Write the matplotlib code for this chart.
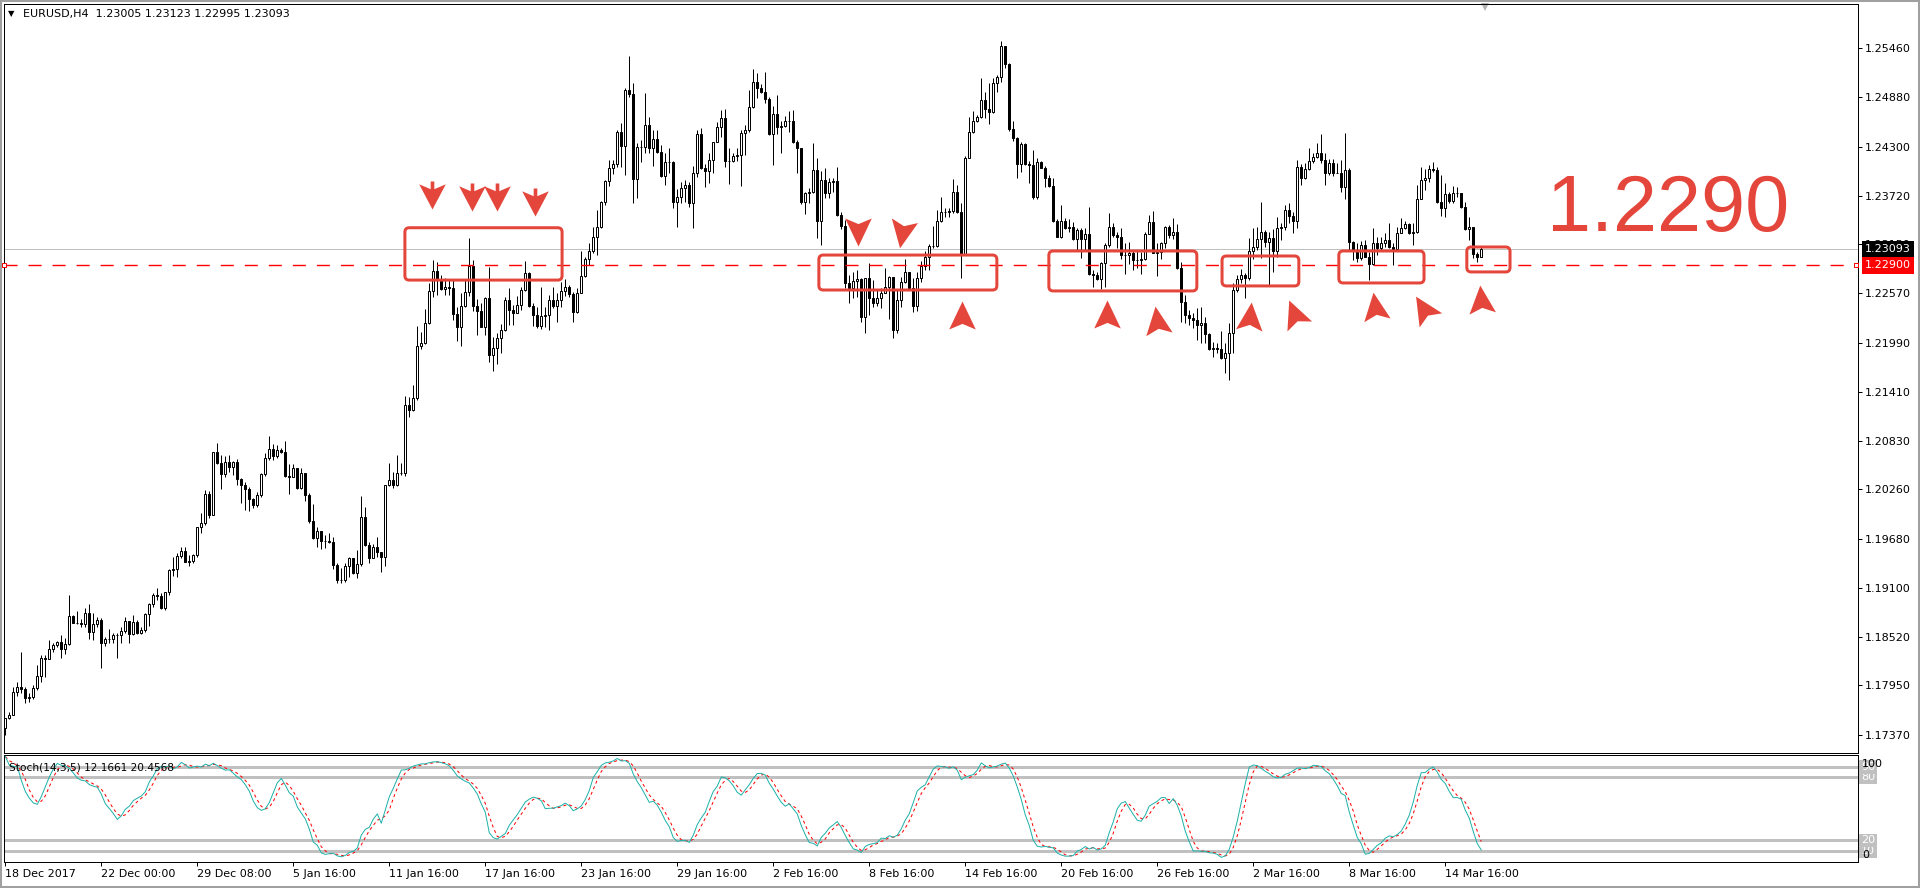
import numpy as np
import pandas as pd
import matplotlib
matplotlib.use("Agg")
import matplotlib.pyplot as plt
from matplotlib.patches import FancyBboxPatch, Rectangle
from matplotlib.path import Path
from matplotlib.markers import MarkerStyle
from matplotlib.transforms import Affine2D, blended_transform_factory

#%% DATA  (EURUSD H4)

symbol_text = "EURUSD,H4  1.23005 1.23123 1.22995 1.23093"
stoch_text = "Stoch(14,3,5) 12.1661 20.4568"

first_open = 1.17444

closes = [
    1.17562, 1.17601, 1.17876, 1.17927, 1.17903, 1.17805, 1.17809, 1.17915, 1.18061, 1.18269,
    1.18265, 1.18375, 1.18426, 1.18458, 1.18375, 1.18434, 1.18768, 1.18689, 1.18689, 1.18670,
    1.18800, 1.18583, 1.18670, 1.18717, 1.18446, 1.18493, 1.18493, 1.18540, 1.18540, 1.18591,
    1.18709, 1.18552, 1.18697, 1.18564, 1.18603, 1.18788, 1.18906, 1.19016, 1.19008, 1.18858,
    1.19055, 1.19310, 1.19318, 1.19475, 1.19534, 1.19409, 1.19417, 1.19487, 1.19813, 1.19861,
    1.20206, 1.19959, 1.20698, 1.20568, 1.20438, 1.20580, 1.20521, 1.20580, 1.20379, 1.20313,
    1.20261, 1.20144, 1.20077, 1.20195, 1.20438, 1.20627, 1.20733, 1.20658, 1.20725, 1.20706,
    1.20419, 1.20411, 1.20517, 1.20273, 1.20450, 1.20195, 1.19892, 1.19684, 1.19770, 1.19652,
    1.19652, 1.19645, 1.19369, 1.19192, 1.19192, 1.19358, 1.19448, 1.19271, 1.19377, 1.19939,
    1.19605, 1.19456, 1.19586, 1.19527, 1.19468, 1.20313, 1.20371, 1.20313, 1.20450, 1.20450,
    1.21256, 1.21197, 1.21334, 1.21950, 1.21982, 1.22218, 1.22603, 1.22835, 1.22728, 1.22618,
    1.22642, 1.22630, 1.22324, 1.22170, 1.22426, 1.22583, 1.22894, 1.22426, 1.22363, 1.22178,
    1.22512, 1.21844, 1.21923, 1.22041, 1.22139, 1.22493, 1.22375, 1.22335, 1.22434, 1.22611,
    1.22807, 1.22426, 1.22316, 1.22190, 1.22304, 1.22312, 1.22493, 1.22422, 1.22493, 1.22603,
    1.22650, 1.22563, 1.22355, 1.22571, 1.22779, 1.22976, 1.23070, 1.23239, 1.23357, 1.23652,
    1.23900, 1.24053, 1.24092, 1.24477, 1.24308, 1.24969, 1.24921, 1.23915, 1.24300, 1.24300,
    1.24556, 1.24281, 1.24387, 1.24241, 1.23955, 1.24124, 1.24116, 1.23644, 1.23711, 1.23817,
    1.23848, 1.23632, 1.23986, 1.24446, 1.24045, 1.24014, 1.24143, 1.24359, 1.24528, 1.24642,
    1.24135, 1.24135, 1.24190, 1.24202, 1.24458, 1.24497, 1.24772, 1.25067, 1.24988, 1.24949,
    1.24858, 1.24446, 1.24682, 1.24536, 1.24544, 1.24603, 1.24603, 1.24359, 1.24281, 1.23652,
    1.23750, 1.23770, 1.24025, 1.23428, 1.23907, 1.23750, 1.23888, 1.23896, 1.23495, 1.23369,
    1.22689, 1.22638, 1.22717, 1.22740, 1.22296, 1.22748, 1.22512, 1.22453, 1.22512, 1.22571,
    1.22642, 1.22760, 1.22139, 1.22493, 1.22709, 1.22819, 1.22630, 1.22426, 1.22748, 1.22894,
    1.23004, 1.23129, 1.23133, 1.23428, 1.23526, 1.23534, 1.23542, 1.23770, 1.23526, 1.23035,
    1.24171, 1.24477, 1.24603, 1.24654, 1.24851, 1.24745, 1.24713, 1.25047, 1.25126, 1.25487,
    1.25271, 1.24509, 1.24399, 1.24092, 1.24332, 1.24092, 1.24084, 1.23711, 1.24124, 1.24053,
    1.23935, 1.23841, 1.23428, 1.23239, 1.23428, 1.23345, 1.23357, 1.23212, 1.23318, 1.23212,
    1.23267, 1.22799, 1.22787, 1.22736, 1.22925, 1.23141, 1.23357, 1.23259, 1.23239, 1.23023,
    1.23023, 1.23043, 1.22964, 1.22964, 1.22976, 1.23267, 1.23416, 1.23043, 1.23055, 1.23161,
    1.23349, 1.23259, 1.23298, 1.22866, 1.22465, 1.22316, 1.22284, 1.22257, 1.22198, 1.22218,
    1.22092, 1.21911, 1.21923, 1.21911, 1.21805, 1.21864, 1.22108, 1.22611, 1.22737, 1.22788,
    1.22748, 1.23075, 1.23114, 1.23208, 1.23299, 1.23181, 1.23220, 1.23075, 1.23338, 1.23350,
    1.23554, 1.23483, 1.23428, 1.24065, 1.23927, 1.24033, 1.24136, 1.24175, 1.24222, 1.24143,
    1.23994, 1.24104, 1.23994, 1.23994, 1.23821, 1.24026, 1.23181, 1.23082, 1.22984, 1.23141,
    1.23004, 1.22917, 1.23169, 1.23102, 1.23169, 1.23200, 1.23114, 1.23090, 1.23287, 1.23338,
    1.23385, 1.23287, 1.23299, 1.23680, 1.23908, 1.23927, 1.24033, 1.24026, 1.23652, 1.23574,
    1.23743, 1.23664, 1.23758, 1.23751, 1.23585, 1.23326, 1.23350, 1.23035, 1.23005, 1.23093,
]

highs = [
    1.17562, 1.17640, 1.17935, 1.17986, 1.18346, 1.17935, 1.17856, 1.17955, 1.18190, 1.18308,
    1.18304, 1.18485, 1.18446, 1.18473, 1.18544, 1.18505, 1.19016, 1.18780, 1.18827, 1.18737,
    1.18858, 1.18906, 1.18800, 1.18752, 1.18741, 1.18524, 1.18611, 1.18572, 1.18564, 1.18642,
    1.18760, 1.18615, 1.18780, 1.18721, 1.18642, 1.18800, 1.18925, 1.19035, 1.19098, 1.19043,
    1.19055, 1.19318, 1.19468, 1.19507, 1.19586, 1.19586, 1.19487, 1.19495, 1.19821, 1.19979,
    1.20254, 1.20242, 1.20698, 1.20804, 1.20666, 1.20654, 1.20666, 1.20599, 1.20615, 1.20391,
    1.20352, 1.20293, 1.20155, 1.20234, 1.20458, 1.20686, 1.20890, 1.20792, 1.20784, 1.20745,
    1.20831, 1.20556, 1.20556, 1.20478, 1.20517, 1.20458, 1.20214, 1.20085, 1.19821, 1.19770,
    1.19723, 1.19751, 1.19703, 1.19397, 1.19338, 1.19389, 1.19468, 1.19448, 1.19546, 1.20183,
    1.20057, 1.19645, 1.19613, 1.19703, 1.19527, 1.20313, 1.20576, 1.20470, 1.20666, 1.20576,
    1.21362, 1.21354, 1.21491, 1.22186, 1.22119, 1.22383, 1.22697, 1.22964, 1.22945, 1.22787,
    1.22748, 1.22728, 1.22728, 1.22414, 1.22571, 1.22728, 1.23220, 1.22964, 1.22500, 1.22453,
    1.22524, 1.22878, 1.22060, 1.22100, 1.22210, 1.22532, 1.22630, 1.22434, 1.22540, 1.22642,
    1.22956, 1.22827, 1.22453, 1.22414, 1.22642, 1.22414, 1.22552, 1.22650, 1.22571, 1.22709,
    1.22736, 1.22670, 1.22591, 1.22630, 1.23074, 1.23004, 1.23161, 1.23357, 1.23554, 1.23664,
    1.23907, 1.24143, 1.24143, 1.24497, 1.24576, 1.24988, 1.25369, 1.25055, 1.24348, 1.24379,
    1.24937, 1.24654, 1.24497, 1.24497, 1.24320, 1.24222, 1.24281, 1.24135, 1.23797, 1.23888,
    1.23907, 1.23888, 1.24072, 1.24497, 1.24524, 1.24096, 1.24230, 1.24359, 1.24595, 1.24733,
    1.24741, 1.24281, 1.24222, 1.24281, 1.24497, 1.24556, 1.24969, 1.25212, 1.25165, 1.25039,
    1.25177, 1.24890, 1.24780, 1.24910, 1.24603, 1.24662, 1.24725, 1.24733, 1.24375, 1.24281,
    1.23770, 1.23809, 1.24348, 1.24163, 1.24014, 1.24053, 1.23927, 1.23927, 1.24065, 1.23534,
    1.23436, 1.22787, 1.22827, 1.22846, 1.22756, 1.22756, 1.22933, 1.22728, 1.22611, 1.22630,
    1.22866, 1.22779, 1.22768, 1.22611, 1.22768, 1.22976, 1.22827, 1.22748, 1.22827, 1.22952,
    1.23070, 1.23149, 1.23369, 1.23554, 1.23703, 1.23574, 1.23581, 1.23919, 1.23848, 1.23632,
    1.24194, 1.24654, 1.24721, 1.24674, 1.25106, 1.24941, 1.25055, 1.25106, 1.25145, 1.25546,
    1.25487, 1.25283, 1.24603, 1.24418, 1.24352, 1.24340, 1.24131, 1.24261, 1.24171, 1.24131,
    1.24072, 1.23966, 1.23927, 1.23444, 1.23613, 1.23455, 1.23448, 1.23416, 1.23338, 1.23338,
    1.23338, 1.23593, 1.22846, 1.22827, 1.22945, 1.23161, 1.23514, 1.23397, 1.23298, 1.23338,
    1.23161, 1.23173, 1.23082, 1.23070, 1.23062, 1.23298, 1.23495, 1.23542, 1.23161, 1.23181,
    1.23369, 1.23377, 1.23455, 1.23385, 1.22945, 1.22552, 1.22375, 1.22336, 1.22395, 1.22414,
    1.22289, 1.22108, 1.22002, 1.21982, 1.22131, 1.21982, 1.22218, 1.22689, 1.22788, 1.22855,
    1.22807, 1.23220, 1.23338, 1.23350, 1.23652, 1.23318, 1.23299, 1.23326, 1.23475, 1.23397,
    1.23613, 1.23633, 1.23534, 1.24143, 1.24096, 1.24104, 1.24281, 1.24230, 1.24340, 1.24450,
    1.24222, 1.24151, 1.24151, 1.24104, 1.24143, 1.24458, 1.24045, 1.23192, 1.23169, 1.23192,
    1.23200, 1.23063, 1.23338, 1.23240, 1.23240, 1.23279, 1.23397, 1.23169, 1.23350, 1.23456,
    1.23424, 1.23397, 1.23397, 1.23849, 1.24057, 1.24033, 1.24085, 1.24124, 1.24057, 1.23967,
    1.23868, 1.23770, 1.23837, 1.23829, 1.23743, 1.23652, 1.23468, 1.23358, 1.23063, 1.23123,
]

lows = [
    1.17365, 1.17550, 1.17601, 1.17829, 1.17864, 1.17746, 1.17758, 1.17785, 1.17896, 1.17994,
    1.18045, 1.18269, 1.18348, 1.18406, 1.18277, 1.18316, 1.18426, 1.18682, 1.18670, 1.18642,
    1.18642, 1.18497, 1.18485, 1.18634, 1.18159, 1.18418, 1.18446, 1.18446, 1.18277, 1.18446,
    1.18572, 1.18454, 1.18548, 1.18556, 1.18552, 1.18579, 1.18650, 1.18870, 1.18957, 1.18847,
    1.18839, 1.19012, 1.19240, 1.19232, 1.19448, 1.19401, 1.19358, 1.19397, 1.19460, 1.19743,
    1.19841, 1.19920, 1.20234, 1.20556, 1.20261, 1.20411, 1.20470, 1.20430, 1.20313, 1.20104,
    1.20018, 1.20006, 1.20045, 1.20057, 1.20175, 1.20419, 1.20607, 1.20607, 1.20627, 1.20686,
    1.20411, 1.20202, 1.20411, 1.20261, 1.20261, 1.20124, 1.19868, 1.19672, 1.19586, 1.19554,
    1.19566, 1.19633, 1.19318, 1.19153, 1.19153, 1.19165, 1.19232, 1.19263, 1.19220, 1.19358,
    1.19593, 1.19397, 1.19448, 1.19468, 1.19291, 1.19358, 1.20301, 1.20273, 1.20301, 1.20430,
    1.20418, 1.21118, 1.21189, 1.21314, 1.21911, 1.21974, 1.22210, 1.22524, 1.22552, 1.22611,
    1.22552, 1.22552, 1.22257, 1.22009, 1.21950, 1.22414, 1.22540, 1.22367, 1.22080, 1.22178,
    1.22080, 1.21766, 1.21656, 1.21738, 1.21864, 1.22127, 1.22198, 1.22198, 1.22355, 1.22375,
    1.22603, 1.22414, 1.22186, 1.22159, 1.22147, 1.22178, 1.22139, 1.22394, 1.22237, 1.22414,
    1.22540, 1.22532, 1.22231, 1.22335, 1.22571, 1.22760, 1.22905, 1.23043, 1.23023, 1.23338,
    1.23613, 1.23841, 1.23978, 1.24065, 1.24065, 1.23966, 1.24882, 1.23632, 1.23691, 1.24124,
    1.24222, 1.24222, 1.24072, 1.24222, 1.23947, 1.23848, 1.23986, 1.23573, 1.23357, 1.23632,
    1.23652, 1.23593, 1.23338, 1.23947, 1.24033, 1.23829, 1.23876, 1.23986, 1.24359, 1.24418,
    1.24057, 1.23860, 1.24124, 1.24135, 1.23841, 1.24202, 1.24477, 1.24760, 1.24870, 1.24929,
    1.24811, 1.24438, 1.24084, 1.24446, 1.24230, 1.24528, 1.24477, 1.24348, 1.23986, 1.23621,
    1.23503, 1.23632, 1.23750, 1.23220, 1.23141, 1.23691, 1.23699, 1.23770, 1.23487, 1.23330,
    1.22630, 1.22453, 1.22520, 1.22532, 1.22237, 1.22107, 1.22316, 1.22414, 1.22426, 1.22394,
    1.22571, 1.22269, 1.22049, 1.22100, 1.22414, 1.22689, 1.22630, 1.22355, 1.22363, 1.22709,
    1.22846, 1.22846, 1.23102, 1.23121, 1.23416, 1.23475, 1.23475, 1.23514, 1.23514, 1.22748,
    1.23023, 1.24163, 1.24466, 1.24587, 1.24642, 1.24642, 1.24564, 1.24693, 1.24949, 1.25067,
    1.25224, 1.24485, 1.24367, 1.23927, 1.24006, 1.24084, 1.23868, 1.23683, 1.23680, 1.24045,
    1.23829, 1.23829, 1.23416, 1.23239, 1.23228, 1.23326, 1.23298, 1.23200, 1.23082, 1.22992,
    1.23070, 1.22787, 1.22642, 1.22728, 1.22622, 1.22650, 1.23121, 1.23239, 1.23102, 1.22976,
    1.22795, 1.22913, 1.22846, 1.22866, 1.22795, 1.22964, 1.23267, 1.23043, 1.22776, 1.22976,
    1.23110, 1.23220, 1.23212, 1.22858, 1.22229, 1.22218, 1.22198, 1.22159, 1.22021, 1.21982,
    1.21982, 1.21903, 1.21825, 1.21864, 1.21793, 1.21628, 1.21550, 1.21864, 1.22591, 1.22697,
    1.22513, 1.22729, 1.22976, 1.23082, 1.22984, 1.23114, 1.22670, 1.22827, 1.23004, 1.23200,
    1.23318, 1.23397, 1.23279, 1.23338, 1.23849, 1.23916, 1.24026, 1.24104, 1.24163, 1.24112,
    1.23849, 1.23967, 1.23959, 1.23986, 1.23770, 1.23680, 1.23082, 1.22965, 1.22945, 1.22965,
    1.23004, 1.22729, 1.22906, 1.23024, 1.23083, 1.23122, 1.23102, 1.22906, 1.23083, 1.23279,
    1.23326, 1.23271, 1.23141, 1.23279, 1.23680, 1.23790, 1.23888, 1.24006, 1.23640, 1.23483,
    1.23468, 1.23640, 1.23633, 1.23703, 1.23574, 1.23318, 1.23200, 1.22984, 1.22945, 1.22995,
]

price_ticks = [1.25460, 1.24880, 1.24300, 1.23720, 1.23150, 1.22570, 1.21990, 1.21410,
               1.20830, 1.20260, 1.19680, 1.19100, 1.18520, 1.17950, 1.17370]

date_labels = ["18 Dec 2017", "22 Dec 00:00", "29 Dec 08:00", "5 Jan 16:00", "11 Jan 16:00",
               "17 Jan 16:00", "23 Jan 16:00", "29 Jan 16:00", "2 Feb 16:00", "8 Feb 16:00",
               "14 Feb 16:00", "20 Feb 16:00", "26 Feb 16:00", "2 Mar 16:00", "8 Mar 16:00",
               "14 Mar 16:00"]

bid_price = 1.23093
level_price = 1.22900
level_text = "1.2290"

stoch_levels = [10, 20, 80, 90]

# red zones drawn on the chart: start bar, end bar, low price, high price
zone_start = [99.9, 203.4, 260.9, 304.2, 333.4, 365.4]
zone_end = [139.2, 247.9, 297.9, 323.4, 354.7, 376.2]
zone_low = [1.22728, 1.22611, 1.22600, 1.22659, 1.22694, 1.22824]
zone_high = [1.23345, 1.23023, 1.23071, 1.23012, 1.23071, 1.23118]

# red arrows: bar, price, rotation (0 = pointing up), has stem
arrow_bar = [106.7, 116.7, 122.9, 132.4, 213.3, 224.2, 239.3, 275.5, 288.0, 311.2, 322.3, 342.4, 354.5, 368.9]
arrow_price = [1.23731, 1.23707, 1.23707, 1.23649, 1.23295, 1.23271, 1.22311, 1.22328, 1.22258,
               1.22305, 1.22340, 1.22423, 1.22399, 1.22505]
arrow_angle = [180, 180, 180, 180, 180, 170, 0, 0, 8, -5, 22, 8, 32, 5]
arrow_stem = [True, True, True, True, False, False, False, False, False, False, False, False, False, False]

#%% PREPARE

PX = 0.72   # one pixel in points (dpi 100)
RED = "#e4463b"

closes = np.array(closes)
opens = np.r_[first_open, closes[:-1]]
highs = np.maximum(np.array(highs), np.maximum(opens, closes))
lows = np.minimum(np.array(lows), np.minimum(opens, closes))
idx = np.arange(len(closes))
bull = closes >= opens

# stochastic 14,3,5 computed from the candles
hh = pd.Series(highs).rolling(14, min_periods=1).max()
ll = pd.Series(lows).rolling(14, min_periods=1).min()
num = (pd.Series(closes) - ll).rolling(5, min_periods=1).sum()
den = (hh - ll).rolling(5, min_periods=1).sum()
stoch_main = (100 * num / den).fillna(50)
stoch_signal = stoch_main.rolling(3, min_periods=1).mean()

#%% FIGURE

fig = plt.figure(figsize=(19.2, 8.88), dpi=100)
fig.patch.set_facecolor("white")

ax = fig.add_axes([4 / 1920, 1 - 753 / 888, 1854 / 1920, 749 / 888])
ax2 = fig.add_axes([4 / 1920, 1 - 862 / 888, 1854 / 1920, 107 / 888])

xlim = (-0.33, 463.2)

# candles
ax.vlines(idx, lows, highs, color="black", lw=PX, zorder=2)
ax.bar(idx, closes - opens, bottom=opens, width=0.5,
       color=np.where(bull, "white", "black"), edgecolor="black", linewidth=PX, zorder=3)

# bid line and the 1.2290 level
ax.axhline(bid_price, color="#c0c0c0", lw=PX, zorder=1)
ax.axhline(level_price, color="#ff0000", lw=1.0, dashes=(9.4, 7.9), zorder=4)
ax.plot([0.0, 0.999], [level_price, level_price], transform=ax.get_yaxis_transform(),
        ls="none", marker="s", ms=3.2, mfc="white", mec="#ff0000", mew=PX, clip_on=False, zorder=6)

# zones
for x0, x1, y0, y1 in zip(zone_start, zone_end, zone_low, zone_high):
    box = FancyBboxPatch((x0, y0), x1 - x0, y1 - y0,
                         boxstyle="round,pad=0,rounding_size=1.1",
                         mutation_aspect=0.000471, fc="none", ec=RED, lw=3 * PX, zorder=5)
    ax.add_patch(box)

# arrows
plain_arrow = Path([(0, 1), (0.95, -1), (0, -0.6), (-0.95, -1), (0, 1)],
                   [Path.MOVETO, Path.LINETO, Path.LINETO, Path.LINETO, Path.CLOSEPOLY])
stem_arrow = Path([(0, 1), (0.95, -0.8), (0.13, -0.45), (0.13, -1), (-0.13, -1),
                   (-0.13, -0.45), (-0.95, -0.8), (0, 1)],
                  [Path.MOVETO] + [Path.LINETO] * 6 + [Path.CLOSEPOLY])
for bx, by, ang, stem in zip(arrow_bar, arrow_price, arrow_angle, arrow_stem):
    m = MarkerStyle(stem_arrow if stem else plain_arrow, transform=Affine2D().rotate_deg(ang))
    ax.plot([bx], [by], ls="none", marker=m, ms=28 * PX, color=RED, mew=0, zorder=6)

# big level text
ax.text(415.7, 1.23310, level_text, fontsize=57, color=RED, family="Liberation Sans",
        ha="center", va="baseline", zorder=6)

ax.set_xlim(*xlim)
ax.set_ylim(1.17154, 1.25982)
ax.set_xticks([])
ax.yaxis.tick_right()
ax.set_yticks(price_ticks)
ax.set_yticklabels([f"{p:.5f}" for p in price_ticks])
ax.tick_params(axis="y", direction="out", length=4 * PX, width=PX, pad=3 * PX, labelsize=8)
for s in ax.spines.values():
    s.set_linewidth(PX)

# price labels on the right scale
ax.annotate(f"{bid_price:.5f}", xy=(1, bid_price), xycoords=("axes fraction", "data"),
            xytext=(7, 0), textcoords="offset pixels", fontsize=8, color="white",
            va="center", ha="left", annotation_clip=False,
            bbox=dict(boxstyle="square,pad=0.3", fc="black", ec="none"))
ax.annotate(f"{level_price:.5f}", xy=(1, level_price), xycoords=("axes fraction", "data"),
            xytext=(7, 0), textcoords="offset pixels", fontsize=8, color="white",
            va="center", ha="left", annotation_clip=False,
            bbox=dict(boxstyle="square,pad=0.3", fc="#ff0000", ec="none"))

# header
ax.annotate("\u25bc", xy=(0, 1), xycoords="axes fraction", xytext=(7, -10),
            textcoords="offset pixels", fontsize=6, va="center", ha="center")
ax.annotate(symbol_text, xy=(0, 1), xycoords="axes fraction", xytext=(19, -10),
            textcoords="offset pixels", fontsize=8, va="center", ha="left")

# chart shift marker
ax.plot([len(closes)], [0.996], transform=blended_transform_factory(ax.transData, ax.transAxes),
        marker="v", ms=8 * PX, color="#b4b4b4", mew=0, clip_on=False)

#%% STOCHASTIC PANEL

for lv in stoch_levels:
    ax2.axhline(lv, color="#c0c0c0", lw=3 * PX, zorder=1)
ax2.plot(idx, stoch_main, color="#20b2aa", lw=PX, zorder=3)
ax2.plot(idx, stoch_signal, color="#ff0000", lw=PX, dashes=(3, 3), zorder=2)

ax2.set_xlim(*xlim)
ax2.set_ylim(-0.5, 101.4)
ax2.set_yticks([])
ax2.set_xticks(np.arange(0, 24 * len(date_labels), 24))
ax2.set_xticklabels(date_labels)
for lbl in ax2.get_xticklabels():
    lbl.set_ha("left")
ax2.tick_params(axis="x", direction="out", length=4 * PX, width=PX, pad=2, labelsize=8)
for s in ax2.spines.values():
    s.set_linewidth(PX)

ax2.annotate(stoch_text, xy=(0, 1), xycoords="axes fraction", xytext=(5, -12),
             textcoords="offset pixels", fontsize=7.6, va="center", ha="left")

for lv in stoch_levels:
    ax2.annotate(str(lv), xy=(1, lv), xycoords=("axes fraction", "data"), xytext=(3, 0),
                 textcoords="offset pixels", fontsize=8, color="white", va="center", ha="left",
                 annotation_clip=False,
                 bbox=dict(boxstyle="square,pad=0.15", fc="#c0c0c0", ec="none"))
ax2.annotate("100", xy=(1, 93), xycoords=("axes fraction", "data"), xytext=(4, 0),
             textcoords="offset pixels", fontsize=8, va="center", ha="left", annotation_clip=False)
ax2.annotate("0", xy=(1, 6), xycoords=("axes fraction", "data"), xytext=(4, 0),
             textcoords="offset pixels", fontsize=8, va="center", ha="left", annotation_clip=False)

# window frame
fig.add_artist(Rectangle((0, 0), 1, 1, transform=fig.transFigure, fill=False,
                         ec="#a0a0a0", lw=2.9))

fig.savefig("out.png", dpi=100)
